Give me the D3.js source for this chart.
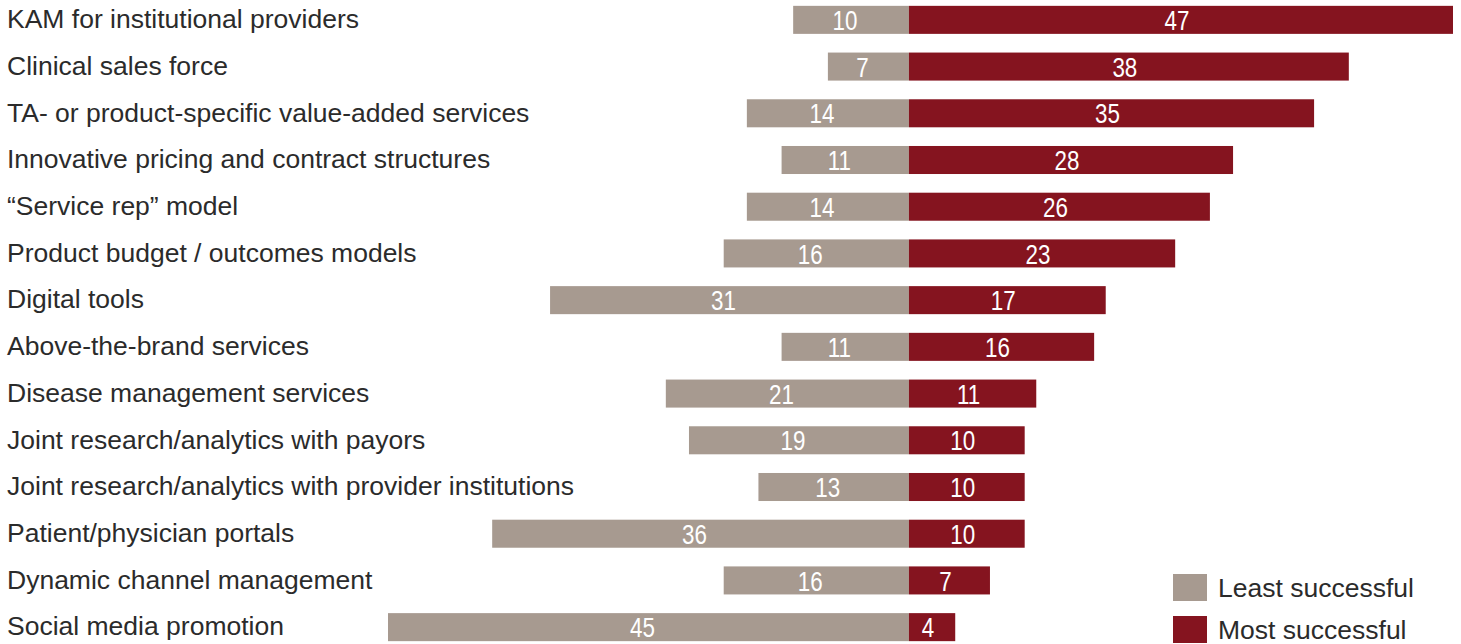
<!DOCTYPE html>
<html>
<head>
<meta charset="utf-8">
<script src="https://cdn.jsdelivr.net/npm/d3@7/dist/d3.min.js"></script>
<style>
  html, body { margin: 0; padding: 0; background: #fff; }
  svg { display: block; }
  .cat { font-family: "Liberation Sans", Arial, sans-serif; font-size: 26.5px; fill: #2b2b2b; }
  .val { font-family: "Liberation Sans", Arial, sans-serif; font-size: 28px; fill: #fff; }
  .leg { font-family: "Liberation Sans", Arial, sans-serif; font-size: 26.5px; fill: #2b2b2b; }
</style>
</head>
<body>
<svg id="chart" width="1461" height="644"></svg>
<script>
  // categories, top to bottom
  const categories = [
    "KAM for institutional providers",
    "Clinical sales force",
    "TA- or product-specific value-added services",
    "Innovative pricing and contract structures",
    "\u201CService rep\u201D model",
    "Product budget / outcomes models",
    "Digital tools",
    "Above-the-brand services",
    "Disease management services",
    "Joint research/analytics with payors",
    "Joint research/analytics with provider institutions",
    "Patient/physician portals",
    "Dynamic channel management",
    "Social media promotion"
  ];
  const leastSuccessful = [10, 7, 14, 11, 14, 16, 31, 11, 21, 19, 13, 36, 16, 45];
  const mostSuccessful  = [47, 38, 35, 28, 26, 23, 17, 16, 11, 10, 10, 10, 7, 4];
  const seriesNames = ["Least successful", "Most successful"];
  const colors = ["#a79a90", "#85141f"];

  const svg = d3.select("#chart");

  // one linear scale for both directions; zero sits at the divider
  const x = d3.scaleLinear().domain([-45, 47]).range([388, 1453]);
  const y = d3.scaleBand()
    .domain(categories)
    .range([-3.5, 650.5])
    .paddingInner(0.4)
    .paddingOuter(0.2);

  const rows = svg.append("g")
    .selectAll("g")
    .data(categories)
    .join("g");

  // category labels
  rows.append("text")
    .attr("class", "cat")
    .attr("x", 7)
    .attr("y", d => y(d) + y.bandwidth() / 2 - 1)
    .attr("dy", "0.35em")
    .text(d => d);

  // grey bars go left
  rows.append("rect")
    .attr("x", (d, i) => x(-leastSuccessful[i]))
    .attr("y", d => y(d))
    .attr("width", (d, i) => x(0) - x(-leastSuccessful[i]))
    .attr("height", y.bandwidth())
    .attr("fill", colors[0]);

  // red bars go right
  rows.append("rect")
    .attr("x", x(0))
    .attr("y", d => y(d))
    .attr("width", (d, i) => x(mostSuccessful[i]) - x(0))
    .attr("height", y.bandwidth())
    .attr("fill", colors[1]);

  // value labels, squeezed to look like a narrow face
  const squeeze = 0.8;
  rows.append("text")
    .attr("class", "val")
    .attr("text-anchor", "middle")
    .attr("transform", (d, i) =>
      `translate(${x(-leastSuccessful[i] / 2) - 6},${y(d) + y.bandwidth() / 2}) scale(${squeeze},1)`)
    .attr("dy", "0.36em")
    .text((d, i) => leastSuccessful[i]);

  rows.append("text")
    .attr("class", "val")
    .attr("text-anchor", "middle")
    .attr("transform", (d, i) =>
      `translate(${Math.max(x(mostSuccessful[i] / 2) - 4, x(0) + 10)},${y(d) + y.bandwidth() / 2}) scale(${squeeze},1)`)
    .attr("dy", "0.36em")
    .text((d, i) => mostSuccessful[i]);

  // legend
  const legend = svg.append("g").attr("transform", "translate(1173,574)");
  seriesNames.forEach((name, i) => {
    const g = legend.append("g").attr("transform", `translate(0,${i * 42})`);
    g.append("rect").attr("width", 34).attr("height", 27).attr("fill", colors[i]);
    g.append("text")
      .attr("class", "leg")
      .attr("x", 45)
      .attr("y", 14)
      .attr("dy", "0.35em")
      .text(name);
  });
</script>
</body>
</html>
